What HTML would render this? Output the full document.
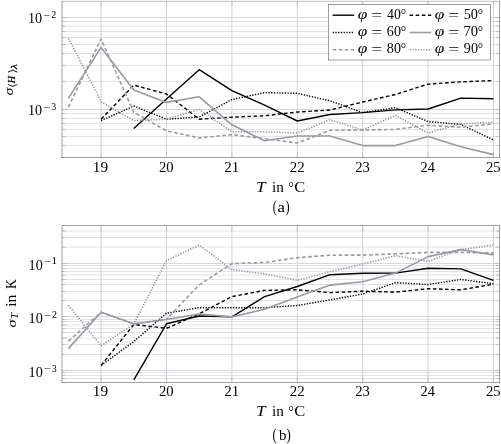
<!DOCTYPE html>
<html><head><meta charset="utf-8"><title>plot</title>
<style>html,body{margin:0;padding:0;background:#fff;}svg{display:block;}</style></head>
<body>
<svg width="501" height="444" viewBox="0 0 501 444" font-family='"Liberation Serif", serif' fill="#000">
<defs><clipPath id="c1"><rect x="62.0" y="1.0" width="437.5" height="156.4"/></clipPath><clipPath id="c2"><rect x="62.0" y="225.8" width="437.5" height="156.39999999999998"/></clipPath></defs>
<path d="M62.0 145.50H499.5M62.0 136.50H499.5M62.0 129.50H499.5M62.0 123.50H499.5M62.0 118.50H499.5M62.0 113.50H499.5M62.0 109.50H499.5M62.0 81.50H499.5M62.0 65.50H499.5M62.0 53.50H499.5M62.0 44.50H499.5M62.0 37.50H499.5M62.0 31.50H499.5M62.0 26.12H499.5M62.0 21.50H499.5M62.0 17.50H499.5" stroke="#e1e3e7" stroke-width="1" fill="none"/>
<path d="M101.10 1.0V157.4M166.50 1.0V157.4M231.90 1.0V157.4M297.30 1.0V157.4M362.70 1.0V157.4M428.10 1.0V157.4M493.50 1.0V157.4" stroke="#bcbcc2" stroke-width="0.65" fill="none"/>
<path d="M62.0 109.50H499.5M62.0 17.50H499.5" stroke="#d6d8dc" stroke-width="1" fill="none"/>
<path d="M62.0 109.50h5.3M499.5 109.50h-5.3M62.0 17.50h5.3M499.5 17.50h-5.3M62.0 145.50h3.6M499.5 145.50h-3.6M62.0 136.50h3.6M499.5 136.50h-3.6M62.0 129.50h3.6M499.5 129.50h-3.6M62.0 123.50h3.6M499.5 123.50h-3.6M62.0 118.50h3.6M499.5 118.50h-3.6M62.0 113.50h3.6M499.5 113.50h-3.6M62.0 81.50h3.6M499.5 81.50h-3.6M62.0 65.50h3.6M499.5 65.50h-3.6M62.0 53.50h3.6M499.5 53.50h-3.6M62.0 44.50h3.6M499.5 44.50h-3.6M62.0 37.50h3.6M499.5 37.50h-3.6M62.0 31.50h3.6M499.5 31.50h-3.6M62.0 26.12h3.6M499.5 26.12h-3.6M62.0 21.50h3.6M499.5 21.50h-3.6" stroke="#c2c2c6" stroke-width="1" fill="none"/>
<path d="M101.10 157.4v-5.3M101.10 1.0v5.3M166.50 157.4v-5.3M166.50 1.0v5.3M231.90 157.4v-5.3M231.90 1.0v5.3M297.30 157.4v-5.3M297.30 1.0v5.3M362.70 157.4v-5.3M362.70 1.0v5.3M428.10 157.4v-5.3M428.10 1.0v5.3M493.50 157.4v-5.3M493.50 1.0v5.3" stroke="#b2b2b6" stroke-width="0.6" fill="none"/>
<g clip-path="url(#c1)" fill="none" stroke-width="1.4" stroke-linejoin="round">
<path d="M133.8 128.4L166.5 99.0L199.2 69.7L231.9 90.7L264.6 105.2L297.3 121.0L330.0 114.5L362.7 112.6L395.4 109.9L428.1 109.0L460.8 98.1L493.5 98.7" stroke="#000"/>
<path d="M101.1 119.2L133.8 85.1L166.5 94.0L199.2 119.2L231.9 117.2L264.6 115.8L297.3 112.0L330.0 110.0L362.7 102.0L395.4 94.5L428.1 84.1L460.8 81.9L493.5 80.5" stroke="#000" stroke-dasharray="3.6 2.5"/>
<path d="M101.1 120.6L133.8 106.0L166.5 119.2L199.2 117.0L231.9 99.6L264.6 92.6L297.3 93.3L330.0 100.8L362.7 112.6L395.4 107.6L428.1 121.6L460.8 124.4L493.5 140.0" stroke="#000" stroke-dasharray="1.3 1.44"/>
<path d="M68.4 98.2L101.1 47.4L133.8 89.9L166.5 102.4L199.2 96.8L231.9 124.8L264.6 140.7L297.3 136.0L330.0 136.0L362.7 145.6L395.4 145.6L428.1 136.4L460.8 146.7L493.5 154.6" stroke="#9a9aa0" stroke-width="1.6"/>
<path d="M68.4 107.2L101.1 39.0L133.8 112.2L166.5 130.9L199.2 137.9L231.9 134.6L264.6 138.7L297.3 143.0L330.0 130.3L362.7 130.0L395.4 129.4L428.1 125.2L460.8 127.2L493.5 123.8" stroke="#9a9aa0" stroke-dasharray="3.6 2.5" stroke-width="1.6"/>
<path d="M68.4 38.2L101.1 101.6L133.8 120.6L166.5 119.2L199.2 109.4L231.9 131.8L264.6 131.8L297.3 133.0L330.0 119.8L362.7 130.0L395.4 115.4L428.1 133.0L460.8 123.8L493.5 122.4" stroke="#9a9aa0" stroke-dasharray="1.3 1.44" stroke-width="1.6"/>
</g>
<path d="M62.0 1.3H499.5" stroke="#8c8c8c" stroke-width="0.55" fill="none"/>
<path d="M62.0 157.5H499.5M62.0 1.3V157.5M499.5 1.3V157.5" stroke="#505050" stroke-width="0.55" fill="none" stroke-linecap="square"/>
<rect x="328.45" y="4.5" width="162.0" height="55.5" fill="#fff" stroke="#505050" stroke-width="0.55"/>
<path d="M332.6 15.2h21.6" stroke="#000" stroke-width="1.4" fill="none"/>
<path d="M409.6 15.2h21.6" stroke="#000" stroke-width="1.4" fill="none" stroke-dasharray="3.6 2.5"/>
<path d="M332.6 32.5h21.6" stroke="#000" stroke-width="1.4" fill="none" stroke-dasharray="1.3 1.44"/>
<path d="M409.6 32.5h21.6" stroke="#9a9aa0" stroke-width="1.6" fill="none"/>
<path d="M332.6 49.7h21.6" stroke="#9a9aa0" stroke-width="1.6" fill="none" stroke-dasharray="3.6 2.5"/>
<path d="M409.6 49.7h21.6" stroke="#9a9aa0" stroke-width="1.6" fill="none" stroke-dasharray="1.3 1.44"/>
<path d="M62.0 378.50H499.5M62.0 375.50H499.5M62.0 372.50H499.5M62.0 370.50H499.5M62.0 354.50H499.5M62.0 344.50H499.5M62.0 338.09H499.5M62.0 332.50H499.5M62.0 328.50H499.5M62.0 325.07H499.5M62.0 321.50H499.5M62.0 319.50H499.5M62.0 316.50H499.5M62.0 300.50H499.5M62.0 291.50H499.5M62.0 284.50H499.5M62.0 279.50H499.5M62.0 275.11H499.5M62.0 271.50H499.5M62.0 268.50H499.5M62.0 265.50H499.5M62.0 263.50H499.5M62.0 247.11H499.5M62.0 237.50H499.5M62.0 230.99H499.5" stroke="#e1e3e7" stroke-width="1" fill="none"/>
<path d="M101.10 225.8V382.2M166.50 225.8V382.2M231.90 225.8V382.2M297.30 225.8V382.2M362.70 225.8V382.2M428.10 225.8V382.2M493.50 225.8V382.2" stroke="#bcbcc2" stroke-width="0.65" fill="none"/>
<path d="M62.0 370.50H499.5M62.0 316.50H499.5M62.0 263.50H499.5" stroke="#d6d8dc" stroke-width="1" fill="none"/>
<path d="M62.0 370.50h5.3M499.5 370.50h-5.3M62.0 316.50h5.3M499.5 316.50h-5.3M62.0 263.50h5.3M499.5 263.50h-5.3M62.0 378.50h3.6M499.5 378.50h-3.6M62.0 375.50h3.6M499.5 375.50h-3.6M62.0 372.50h3.6M499.5 372.50h-3.6M62.0 354.50h3.6M499.5 354.50h-3.6M62.0 344.50h3.6M499.5 344.50h-3.6M62.0 338.09h3.6M499.5 338.09h-3.6M62.0 332.50h3.6M499.5 332.50h-3.6M62.0 328.50h3.6M499.5 328.50h-3.6M62.0 325.07h3.6M499.5 325.07h-3.6M62.0 321.50h3.6M499.5 321.50h-3.6M62.0 319.50h3.6M499.5 319.50h-3.6M62.0 300.50h3.6M499.5 300.50h-3.6M62.0 291.50h3.6M499.5 291.50h-3.6M62.0 284.50h3.6M499.5 284.50h-3.6M62.0 279.50h3.6M499.5 279.50h-3.6M62.0 275.11h3.6M499.5 275.11h-3.6M62.0 271.50h3.6M499.5 271.50h-3.6M62.0 268.50h3.6M499.5 268.50h-3.6M62.0 265.50h3.6M499.5 265.50h-3.6M62.0 247.11h3.6M499.5 247.11h-3.6M62.0 237.50h3.6M499.5 237.50h-3.6M62.0 230.99h3.6M499.5 230.99h-3.6" stroke="#c2c2c6" stroke-width="1" fill="none"/>
<path d="M101.10 382.2v-5.3M101.10 225.8v5.3M166.50 382.2v-5.3M166.50 225.8v5.3M231.90 382.2v-5.3M231.90 225.8v5.3M297.30 382.2v-5.3M297.30 225.8v5.3M362.70 382.2v-5.3M362.70 225.8v5.3M428.10 382.2v-5.3M428.10 225.8v5.3M493.50 382.2v-5.3M493.50 225.8v5.3" stroke="#b2b2b6" stroke-width="0.6" fill="none"/>
<g clip-path="url(#c2)" fill="none" stroke-width="1.4" stroke-linejoin="round">
<path d="M133.8 379.9L166.5 323.8L199.2 316.0L231.9 316.9L264.6 296.7L297.3 286.5L330.0 274.7L362.7 273.3L395.4 273.1L428.1 268.3L460.8 268.9L493.5 280.3" stroke="#000"/>
<path d="M101.1 365.4L133.8 324.5L166.5 328.3L199.2 313.8L231.9 296.6L264.6 290.4L297.3 289.8L330.0 292.6L362.7 291.2L395.4 292.1L428.1 288.7L460.8 289.8L493.5 284.2" stroke="#000" stroke-dasharray="3.6 2.5"/>
<path d="M101.1 365.4L133.8 341.6L166.5 313.2L199.2 307.7L231.9 307.7L264.6 307.7L297.3 305.5L330.0 299.9L362.7 294.0L395.4 282.7L428.1 284.5L460.8 279.5L493.5 283.7" stroke="#000" stroke-dasharray="1.3 1.44"/>
<path d="M68.4 348.6L101.1 312.3L133.8 323.8L166.5 319.5L199.2 314.0L231.9 316.9L264.6 309.3L297.3 297.1L330.0 285.1L362.7 281.7L395.4 273.1L428.1 256.6L460.8 249.6L493.5 254.9" stroke="#9a9aa0" stroke-width="1.6"/>
<path d="M68.4 341.1L101.1 312.3L133.8 324.0L166.5 319.2L199.2 284.8L231.9 263.6L264.6 262.5L297.3 257.7L330.0 255.2L362.7 255.1L395.4 253.8L428.1 252.4L460.8 252.4L493.5 252.9" stroke="#9a9aa0" stroke-dasharray="3.6 2.5" stroke-width="1.6"/>
<path d="M68.4 305.3L101.1 345.8L133.8 324.0L166.5 260.5L199.2 245.1L231.9 269.7L264.6 273.9L297.3 280.3L330.0 271.7L362.7 264.1L395.4 255.7L428.1 261.3L460.8 249.6L493.5 245.1" stroke="#9a9aa0" stroke-dasharray="1.3 1.44" stroke-width="1.6"/>
</g>
<path d="M62.0 225.5H499.5" stroke="#505050" stroke-width="0.55" fill="none"/>
<path d="M62.0 382.5H499.5M62.0 225.5V382.5M499.5 225.5V382.5" stroke="#505050" stroke-width="0.55" fill="none" stroke-linecap="square"/>
<text transform="translate(92.80,172.00) scale(1.099,1.000)" font-size="14">19</text>
<text transform="translate(158.94,172.00) scale(1.044,1.000)" font-size="14">20</text>
<text transform="translate(224.34,172.00) scale(1.062,1.000)" font-size="14">21</text>
<text transform="translate(289.74,172.00) scale(1.062,1.000)" font-size="14">22</text>
<text transform="translate(355.14,172.00) scale(1.044,1.000)" font-size="14">23</text>
<text transform="translate(420.55,172.00) scale(1.027,1.000)" font-size="14">24</text>
<text transform="translate(485.94,172.00) scale(1.044,1.000)" font-size="14">25</text>
<text transform="translate(27.89,22.70) scale(1.011,1.000)" font-size="14">10</text>
<text transform="translate(43.21,18.50) scale(1.259,1.000)" font-size="10">−</text>
<text transform="translate(51.29,17.60) scale(0.996,1.000)" font-size="10">2</text>
<text transform="translate(27.89,114.76) scale(1.011,1.000)" font-size="14">10</text>
<text transform="translate(43.21,110.56) scale(1.259,1.000)" font-size="10">−</text>
<text transform="translate(51.13,109.66) scale(0.996,1.000)" font-size="10">3</text>
<text transform="translate(357.83,18.80) scale(1.151,1.000)" font-size="15" font-style="italic">φ</text>
<text transform="translate(371.19,19.60) scale(1.387,1.000)" font-size="14">=</text>
<text transform="translate(387.08,18.80) scale(0.989,1.000)" font-size="14">40</text>
<text transform="translate(400.87,18.80) scale(0.960,1.000)" font-size="14">°</text>
<text transform="translate(434.83,18.80) scale(1.151,1.000)" font-size="15" font-style="italic">φ</text>
<text transform="translate(448.19,19.60) scale(1.387,1.000)" font-size="14">=</text>
<text transform="translate(463.63,18.80) scale(1.023,1.000)" font-size="14">50</text>
<text transform="translate(477.87,18.80) scale(0.960,1.000)" font-size="14">°</text>
<text transform="translate(357.83,36.10) scale(1.151,1.000)" font-size="15" font-style="italic">φ</text>
<text transform="translate(371.19,36.90) scale(1.387,1.000)" font-size="14">=</text>
<text transform="translate(386.86,36.10) scale(1.006,1.000)" font-size="14">60</text>
<text transform="translate(400.87,36.10) scale(0.960,1.000)" font-size="14">°</text>
<text transform="translate(434.83,36.10) scale(1.151,1.000)" font-size="15" font-style="italic">φ</text>
<text transform="translate(448.19,36.90) scale(1.387,1.000)" font-size="14">=</text>
<text transform="translate(463.39,36.10) scale(1.040,1.000)" font-size="14">70</text>
<text transform="translate(477.87,36.10) scale(0.960,1.000)" font-size="14">°</text>
<text transform="translate(357.83,53.30) scale(1.151,1.000)" font-size="15" font-style="italic">φ</text>
<text transform="translate(371.19,54.10) scale(1.387,1.000)" font-size="14">=</text>
<text transform="translate(386.86,53.30) scale(1.006,1.000)" font-size="14">80</text>
<text transform="translate(400.87,53.30) scale(0.960,1.000)" font-size="14">°</text>
<text transform="translate(434.83,53.30) scale(1.151,1.000)" font-size="15" font-style="italic">φ</text>
<text transform="translate(448.19,54.10) scale(1.387,1.000)" font-size="14">=</text>
<text transform="translate(463.86,53.30) scale(1.006,1.000)" font-size="14">90</text>
<text transform="translate(477.87,53.30) scale(0.960,1.000)" font-size="14">°</text>
<text transform="translate(92.80,396.40) scale(1.099,1.000)" font-size="14">19</text>
<text transform="translate(158.94,396.40) scale(1.044,1.000)" font-size="14">20</text>
<text transform="translate(224.34,396.40) scale(1.062,1.000)" font-size="14">21</text>
<text transform="translate(289.74,396.40) scale(1.062,1.000)" font-size="14">22</text>
<text transform="translate(355.14,396.40) scale(1.044,1.000)" font-size="14">23</text>
<text transform="translate(420.55,396.40) scale(1.027,1.000)" font-size="14">24</text>
<text transform="translate(485.94,396.40) scale(1.044,1.000)" font-size="14">25</text>
<text transform="translate(28.59,269.53) scale(1.011,1.000)" font-size="14">10</text>
<text transform="translate(43.91,265.33) scale(1.259,1.000)" font-size="10">−</text>
<text transform="translate(51.43,264.43) scale(1.120,1.000)" font-size="10">1</text>
<text transform="translate(28.59,323.08) scale(1.011,1.000)" font-size="14">10</text>
<text transform="translate(43.91,318.88) scale(1.259,1.000)" font-size="10">−</text>
<text transform="translate(51.99,317.98) scale(0.996,1.000)" font-size="10">2</text>
<text transform="translate(28.59,376.63) scale(1.011,1.000)" font-size="14">10</text>
<text transform="translate(43.91,372.43) scale(1.259,1.000)" font-size="10">−</text>
<text transform="translate(51.83,371.53) scale(0.996,1.000)" font-size="10">3</text>
<text transform="translate(255.91,191.80) scale(1.244,1.000)" font-size="14" font-style="italic">T</text>
<text transform="translate(272.06,191.80) scale(1.087,1.000)" font-size="14">in</text>
<text transform="translate(288.49,191.80) scale(0.937,1.000)" font-size="14">°</text>
<text transform="translate(294.18,191.80) scale(1.179,1.000)" font-size="14">C</text>
<text transform="translate(272.83,212.30) scale(0.733,1.000)" font-size="16">(</text>
<text transform="translate(277.38,212.30) scale(1.196,1.000)" font-size="14">a</text>
<text transform="translate(285.61,212.30) scale(0.776,1.000)" font-size="16">)</text>
<text transform="translate(255.91,416.30) scale(1.244,1.000)" font-size="14" font-style="italic">T</text>
<text transform="translate(272.06,416.30) scale(1.087,1.000)" font-size="14">in</text>
<text transform="translate(288.49,416.30) scale(0.937,1.000)" font-size="14">°</text>
<text transform="translate(294.18,416.30) scale(1.179,1.000)" font-size="14">C</text>
<text transform="translate(272.41,439.50) scale(0.778,1.000)" font-size="16">(</text>
<text transform="translate(278.90,439.50) scale(1.067,1.000)" font-size="14">b</text>
<text transform="translate(286.60,439.50) scale(0.800,1.000)" font-size="16">)</text>
<text transform="translate(13.00,95.45) rotate(-90) scale(1.136,0.880)" font-size="14" font-style="italic">σ</text>
<text transform="translate(15.90,88.20) rotate(-90) scale(1.328,1.000)" font-size="10.6" font-family="DejaVu Serif, serif" fill="#333">⟨</text>
<text transform="translate(14.90,83.14) rotate(-90) scale(0.947,1.000)" font-size="10.6" font-style="italic" stroke="#000" stroke-width="0.25">H</text>
<text transform="translate(15.90,73.80) rotate(-90) scale(1.328,1.000)" font-size="10.6" font-family="DejaVu Serif, serif" fill="#333">⟩</text>
<text transform="translate(17.10,69.06) rotate(-90) scale(1.491,1.000)" font-size="7.4" font-style="italic" stroke="#000" stroke-width="0.2">λ</text>
<text transform="translate(15.90,327.45) rotate(-90) scale(1.150,0.880)" font-size="14" font-style="italic">σ</text>
<text transform="translate(18.00,319.08) rotate(-90) scale(1.084,1.000)" font-size="10" font-style="italic">T</text>
<text transform="translate(15.90,306.85) rotate(-90) scale(1.134,1.000)" font-size="14">in</text>
<text transform="translate(15.90,289.11) rotate(-90) scale(0.975,1.000)" font-size="14">K</text>
</svg>
</body></html>
